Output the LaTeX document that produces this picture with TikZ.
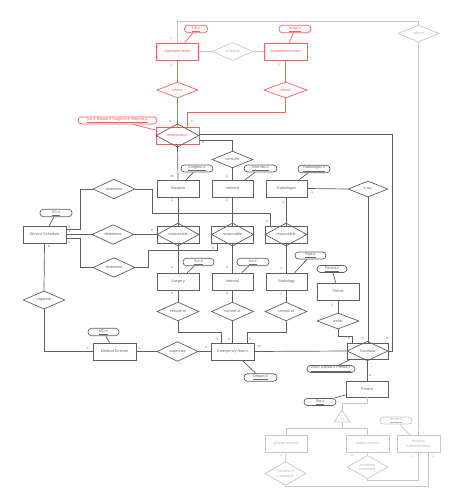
\documentclass[tikz,border=0pt]{standalone}
\usepackage{fontspec}
\setmainfont{Liberation Sans}
\usetikzlibrary{shapes.geometric,calc}
\definecolor{dk}{RGB}{95,95,95}
\definecolor{tx}{RGB}{105,105,105}
\definecolor{rd}{RGB}{250,95,95}
\definecolor{lg}{RGB}{200,200,200}
\definecolor{lgt}{RGB}{185,185,185}
\begin{document}
\begin{tikzpicture}[x=1pt,y=-1pt,
  every node/.style={font=\fontsize{3.8}{4.4}\selectfont, text=tx, inner sep=0pt},
  ent/.style={draw=dk, line width=0.7pt, rectangle, minimum width=42pt, minimum height=17pt, align=center},
  rel/.style={draw=dk, line width=0.7pt, diamond, minimum width=42pt, minimum height=17pt, align=center},
  attr/.style={draw=dk, line width=0.7pt, rectangle, rounded corners=3.5pt, minimum width=32pt, minimum height=7.5pt},
  lbl/.style={font=\fontsize{3.6}{4}\selectfont, text=tx},
  ln/.style={draw=dk, line width=0.7pt},
  rdl/.style={draw=rd, line width=0.7pt},
  lgl/.style={draw=lg, line width=0.7pt},
  red/.style={draw=rd, text=rd},
  grey/.style={draw=lg, text=lgt}
]
\useasboundingbox (0,0) rectangle (454,503);

% ---------- top red part ----------
\node[ent, red] (opteam) at (177.5,51.5) {Operation team};
\node[ent, red, minimum width=43pt] (anae) at (285.5,51.5) {Anaesthesia team};
\node[attr, red, minimum width=23pt] (opattr) at (196,29) {\underline{OP.\#}};
\node[attr, red] (anattr) at (295,29) {\underline{Anae.\#}};
\node[rel, grey, minimum width=41pt] (sched) at (232.5,51.5) {schedule};
\node[rel, red, minimum width=41pt, minimum height=16pt] (inform1) at (177.5,90) {inform};
\node[rel, red, minimum width=43pt, minimum height=16pt] (inform2) at (285.5,90) {inform};
\node[rel, grey, minimum width=41pt] (inform3) at (418.5,33.5) {inform};
\node[ent, draw=rd, minimum width=43pt] (exam) at (177.5,135.5) {};
\node[rel, text=rd, minimum width=43pt] at (exam) {examination};
\node[attr, red, minimum width=79pt, minimum height=7pt] (exattr) at (117.5,120.5) {\underline{Inp.\# Depart.\# Surgeon.\# Internist.\#}};

% ---------- doctors ----------
\node[rel, minimum width=41pt, minimum height=16pt] (consults) at (232.5,159.5) {consults};
\node[ent] (surgeon) at (178,188.5) {Surgeon};
\node[ent, minimum width=41pt] (internist) at (232.5,188.5) {Internist};
\node[ent, minimum width=41pt] (radiologist) at (286.5,188.5) {Radiologist};
\node[attr, minimum height=7pt] (suattr) at (197,168.5) {\underline{Surgeon \#}};
\node[attr, minimum width=33pt, minimum height=7pt] (inattr) at (260.5,168.5) {\underline{Internist \#}};
\node[attr] (raattr) at (314,169) {\underline{Radiologist \#}};
\node[rel, minimum width=40pt, minimum height=16pt] (xray) at (368,189) {x-ray};

% ---------- service schedule ----------
\node[ent, minimum width=43pt] (ss) at (44.5,234.5) {Service Schedule};
\node[attr] (ssattr) at (56,213) {\underline{SS.\#}};
\node[rel, minimum height=16pt] (det1) at (114,189) {determine};
\node[rel] (det2) at (113,234.5) {determine};
\node[rel] (det3) at (114,267.5) {determine};
\node[rel, minimum height=16pt] (organise) at (44,300) {organise};

% ---------- responsible ----------
\node[ent] (resp1) at (178,234.5) {};
\node[rel] at (resp1) {responsible};
\node[ent] (resp2) at (232.5,234.5) {};
\node[rel] at (resp2) {responsible};
\node[ent] (resp3) at (286,234.5) {};
\node[rel] at (resp3) {responsible};

% ---------- departments ----------
\node[ent] (surgery) at (178,281.5) {Surgery};
\node[ent, minimum width=41pt] (internal) at (232.5,281.5) {Internal};
\node[ent, minimum width=41pt] (radiology) at (286.5,281.5) {Radiology};
\node[attr, minimum width=31pt] (surattr) at (198.5,262) {\underline{Sur.\#}};
\node[attr] (intattr) at (253,262) {\underline{Int.\#}};
\node[attr, minimum width=31pt, minimum height=7pt] (radattr) at (310.5,255.5) {\underline{Rad.\#}};
\node[ent] (period) at (338,291.5) {Period};
\node[attr, minimum width=30pt, minimum height=7pt] (perattr) at (332,269) {\underline{Period.\#}};
\node[rel, minimum height=16pt] (within) at (338,321) {within};
\node[rel] (con1) at (178,311.5) {consist of};
\node[rel] (con2) at (232.5,311.5) {consist of};
\node[rel] (con3) at (286,311.5) {consist of};

% ---------- bottom ----------
\node[ent, minimum width=43pt] (md) at (114.5,351.5) {Medical Director};
\node[attr, minimum width=31pt] (mdattr) at (103.5,332) {\underline{MD.\#}};
\node[rel, minimum width=41pt] (supervise) at (177.5,351.5) {supervise};
\node[ent, minimum width=43pt] (er) at (232.5,351.5) {Emergency Room};
\node[attr, minimum width=33pt] (erattr) at (260.5,377.5) {\underline{Depart.\#}};
\node[ent, minimum width=41pt, minimum height=16pt] (traum) at (367.5,351) {};
\node[rel, minimum width=41pt, minimum height=16pt] at (traum) {Traumatic};
\node[attr, minimum width=48pt, minimum height=7pt] (trattr) at (331,369) {\underline{Inp.\# Depart.\# Period.\#}};
\node[ent, minimum height=16pt] (patient) at (367,389) {Patient};
\node[attr, minimum height=7pt] (paattr) at (320,402) {\underline{Sta.\#}};

% ---------- grey insured part ----------
\coordinate (isatop) at (342,410);
\coordinate (isabot) at (342,422);
\draw[lgl] (isatop) -- (350,422) -- (334,422) -- cycle;
\node[text=lgt, font=\fontsize{2.8}{3}\selectfont] (isa) at (342,418) {is a};
\node[ent, grey] (priv) at (286,443.5) {private insured};
\node[ent, grey, minimum width=43pt] (pub) at (367.5,443.5) {public insured};
\node[ent, grey, minimum width=43pt] (hosp) at (418.5,443.5) {Hospital\\Administration};
\node[attr, grey, minimum height=7pt] (hoattr) at (396,420.5) {\underline{HoAd.\#}};
\node[rel, grey, minimum width=41pt] (max) at (285.5,473.5) {maximum\\treatment};
\node[rel, grey, minimum width=41pt, minimum height=16pt] (min) at (367.5,467) {minimum\\treatment};

% ---------- connectors: grey ----------
\draw[lgl] (opteam.north) -- (177.5,21) -| (inform3.north);
\draw[lgl] (inform3.south) -- (hosp.north);
\draw[lgl] (opteam.east) -- (sched.west);
\draw[lgl] (sched.east) -- (anae.west);
\draw[lgl] (patient.south) -- (367,403) -| (isatop);
\draw[lgl] (priv.north) -- (286,428) -| (pub.north);
\draw[lgl] (isabot) -- (342,428);
\draw[lgl] (pub.south) -- (min.north);
\draw[lgl] (priv.south) -- (max.north);
\draw[lgl] (hosp.south) -- (418.5,480) -| (min.south);
\draw[lgl] ($(hosp.south)+(9.5,0)$) -- (428,486) -| (max.south);
\draw[lgl] (hoattr) -- (hosp);

% ---------- connectors: red ----------
\draw[rdl] (opattr) -- (opteam);
\draw[rdl] (anattr) -- (anae);
\draw[rdl] (opteam.south) -- (inform1.north);
\draw[rdl] (inform1.south) -- (exam.north);
\draw[rdl] (anae.south) -- (inform2.north);
\draw[rdl] (inform2.south) -- (285.5,112.5) -| ($(exam.north)+(9.5,0)$);
\draw[rdl] (exattr) -- (exam);

% ---------- connectors: dark ----------
\draw[ln] ($(exam.east)+(0,-1.5)$) -- (392,134) |- (traum.east);
\draw[ln] ($(exam.east)+(0,4.5)$) -| (consults.north);
\draw[ln] (exam.south) -- (surgeon.north);
\draw[ln] (consults.south) -- (internist.north);
\draw[ln] (suattr) -- (surgeon);
\draw[ln] (inattr) -- (internist);
\draw[ln] (raattr) -- (radiologist);
\draw[ln] (surgeon.south) -- (resp1.north);
\draw[ln] (internist.south) -- (resp2.north);
\draw[ln] (radiologist.south) -- (radiologist.south |- resp3.north);
\draw[ln] (resp1.south) -- (surgery.north);
\draw[ln] (resp2.south) -- (internal.north);
\draw[ln] (resp3.south -| radiology.north) -- (radiology.north);
\draw[ln] (surgery.south) -- (con1.north);
\draw[ln] (internal.south) -- (con2.north);
\draw[ln] (radiology.south -| con3.north) -- (con3.north);
\draw[ln] (surattr) -- (surgery);
\draw[ln] (intattr) -- (internal);
\draw[ln] (radattr) -- (radiology);
\draw[ln] (con1.south) -- (178,332) -| ($(er.north)+(-11.5,0)$);
\draw[ln] (con2.south) -- (er.north);
\draw[ln] (con3.south) -- (286,332) -| ($(er.north)+(14.5,0)$);
\draw[ln] (er.east) -- (traum.west);
\draw[ln] (erattr) -- (er);
\draw[ln] (radiologist.east) -- (xray.west);
\draw[ln] (xray.south) -- (xray.south |- traum.north);
\draw[ln] (period.south) -- (within.north);
\draw[ln] (perattr) -- (period);
\draw[ln] (within.south) -- (338,336) -| ($(traum.north)+(-15.5,0)$);
\draw[ln] (traum.south) -- (traum.south |- patient.north);
\draw[ln] (trattr) -- (traum);
\draw[ln] (paattr) -- (patient);
\draw[ln] (ssattr) -- (ss);
\draw[ln] ($(ss.east)+(0,-5.5)$) -- (80,229) |- (det1.west);
\draw[ln] (det1.east) -| (152,213) -| ($(resp3.north)+(-16,0)$);
\draw[ln] (ss.east) -- (det2.west);
\draw[ln] (det2.east) -- (resp1.west);
\draw[ln] ($(ss.east)+(0,3.5)$) -- (80,238) |- (det3.west);
\draw[ln] (det3.east) -| (148,250) -| ($(resp2.south)+(-15.5,0)$);
\draw[ln] (ss.south) -- (organise.north);
\draw[ln] (organise.south) |- (md.west);
\draw[ln] (mdattr) -- (md);
\draw[ln] (md.east) -- (supervise.west);
\draw[ln] (supervise.east) -- (er.west);

% ---------- cardinality labels ----------
\foreach \p/\t in {{171,39}/n,{206,46}/1,{259,46}/1,{423,432}/1,{412,456}/1,{433,456}/1,{281,456}/n,{352,456}/n}
  \node[lbl, text=lgt] at (\p) {\t};
\foreach \p/\t in {{171,65}/1,{279,64}/1,{170,122}/n,{192,122}/n}
  \node[lbl, text=rd] at (\p) {\t};
\foreach \p/\t in {{203,143}/n,{172,177}/m,{227,176}/1,{172,200}/1,{227,200}/1,{283,202}/1,{312,192}/1,
  {69,226}/1,{69,231}/1,{69,242}/1,{267,222}/n,{152,231}/n,{213,249}/n,{49,247}/n,
  {172,268}/n,{227,268}/n,{281,268}/1,{172,294}/n,{227,294}/n,{281,294}/1,{332,305}/1,
  {87,348}/1,{139,348}/1,{206,348}/n,{217,339}/1,{229,339}/1,{250,339}/1,{259,347}/m,
  {349,339}/n,{363,339}/n,{387,339}/n,{370,376}/n}
  \node[lbl] at (\p) {\t};
\end{tikzpicture}
\end{document}
